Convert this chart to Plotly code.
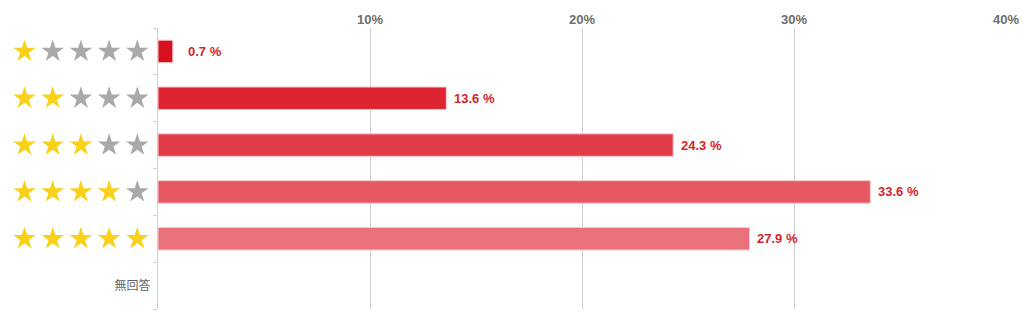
import plotly.graph_objects as go

# Rating distribution (share of respondents, %)
categories = ["1", "2", "3", "4", "5", "無回答"]
ratings = [1, 2, 3, 4, 5, 0]
shares = [0.7, 13.6, 24.3, 33.6, 27.9, 0.0]
bar_colors = ["#D9111F", "#DD2531", "#E13D48", "#E55862", "#E9717A", "#EEEEEE"]
x_ticks = [10, 20, 30, 40]
x_tick_labels = ["10%", "20%", "30%", "40%"]

W, H = 1024, 323
ML, MR, MT, MB = 0, 18, 28, 14
plot_w = W - ML - MR
left_px = 158  # start of the value axis inside the paper area

STAR_ON = "#F8D11A"
STAR_OFF = "#A9A9A9"
LABEL_RED = "#D61F2C"

fig = go.Figure()

fig.add_trace(go.Bar(
    x=shares[:5], y=categories[:5], orientation="h",
    marker=dict(color=bar_colors[:5], line=dict(color="#F7C9CD", width=1)),
    width=0.48, hoverinfo="skip", showlegend=False,
))

# star ratings drawn to the left of the value axis
sx, sy, sc = [], [], []
for cat, r in zip(categories, ratings):
    if r == 0:
        continue
    for i in range(1, 6):
        sx.append(i)
        sy.append(cat)
        sc.append(STAR_ON if i <= r else STAR_OFF)
fig.add_trace(go.Scatter(
    x=sx, y=sy, xaxis="x2", yaxis="y", mode="markers",
    marker=dict(symbol="star", size=17, color=sc, line=dict(width=0)),
    hoverinfo="skip", showlegend=False,
))

# value labels next to each bar (category axis positions are indices)
for idx, v in enumerate(shares):
    if v <= 0:
        continue
    fig.add_annotation(
        x=max(v, 1.05), y=idx, xref="x", yref="y",
        text=f"{v} %", showarrow=False, xanchor="left", xshift=6,
        font=dict(family="Liberation Sans, Arial, sans-serif", size=13,
                  color=LABEL_RED, weight="bold"),
    )

star_px = 28.2
star_first = 24.5
x2_start = 1 - star_first / star_px
x2_end = x2_start + (left_px - 1) / star_px

fig.update_layout(
    width=W, height=H,
    margin=dict(l=ML, r=MR, t=MT, b=MB),
    paper_bgcolor="white", plot_bgcolor="white",
    bargap=0.5,
    xaxis=dict(
        domain=[left_px / plot_w, 1], range=[0, 40], side="top",
        tickvals=x_ticks, ticktext=x_tick_labels,
        showgrid=True, gridcolor="#CFCFCF", gridwidth=1,
        zeroline=False, showline=False, ticks="",
        tickfont=dict(family="Liberation Sans, Arial, sans-serif", size=13,
                      color="#6E6E6E", weight="bold"),
        fixedrange=True,
    ),
    xaxis2=dict(
        domain=[0, (left_px - 1) / plot_w], range=[x2_start, x2_end],
        anchor="y", visible=False, fixedrange=True,
    ),
    yaxis=dict(
        type="category",
        categoryorder="array", categoryarray=categories,
        range=[len(categories) - 0.5, -0.5],
        tickvals=categories, ticktext=["", "", "", "", "", "無回答"],
        showline=True, linecolor="#C9D4E2", linewidth=1,
        ticks="outside", ticklen=4, tickcolor="#C9D4E2", tickson="boundaries",
        ticklabelstandoff=4,
        showgrid=False, zeroline=False,
        tickfont=dict(family="Noto Sans CJK JP, sans-serif", size=12, color="#666666"),
        fixedrange=True,
    ),
)

fig.write_html("out.html")
